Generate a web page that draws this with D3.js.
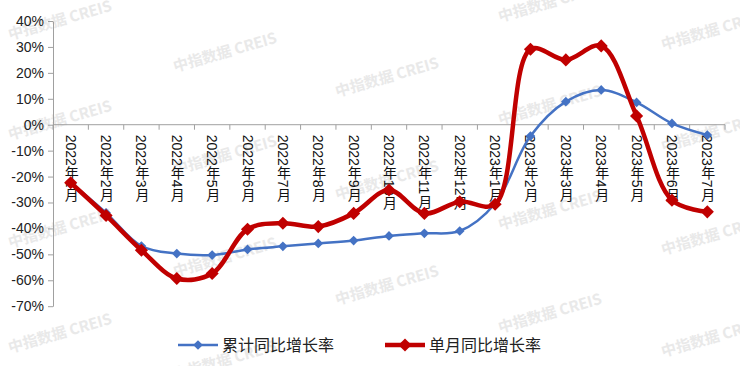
<!DOCTYPE html>
<html>
<head>
<meta charset="utf-8">
<script src="https://cdn.jsdelivr.net/npm/d3@7"></script>
<style>
  body { margin: 0; background: #fff; }
  svg { display: block; font-family: "Liberation Sans", "Noto Sans CJK SC", sans-serif; }
  .wm { font-family: "Noto Sans CJK SC", sans-serif; font-weight: bold; font-size: 15px; fill: #e9e9e9; }
  .xlabel { writing-mode: vertical-rl; font-size: 14px; fill: #111; }
  .ylabel { font-size: 14px; fill: #222; }
  .legend { font-family: "Noto Sans CJK SC", sans-serif; font-size: 16px; fill: #222; }
</style>
</head>
<body>
<div id="root"></div>
<script>
const months = [
  '2022年1月', '2022年2月', '2022年3月', '2022年4月', '2022年5月', '2022年6月',
  '2022年7月', '2022年8月', '2022年9月', '2022年10月', '2022年11月', '2022年12月',
  '2023年1月', '2023年2月', '2023年3月', '2023年4月', '2023年5月', '2023年6月', '2023年7月',
];
const cumulative = [-22.4, -34, -46.8, -49.7, -50.3, -48.1, -46.9, -45.8, -44.7, -42.9, -41.9, -41, -30.4, -4.4, 8.9, 13.4, 8.6, 0.5, -4];
const single = [-22.4, -35, -48.4, -59.3, -57.4, -40.3, -38, -39.3, -34.2, -25.2, -34.2, -29.7, -30.7, 29.1, 25, 30.4, 3.4, -29.1, -33.6];
const yTicks = [40, 30, 20, 10, 0, -10, -20, -30, -40, -50, -60, -70];
const seriesNames = ['累计同比增长率', '单月同比增长率'];
const watermarks = [
  [10, 40], [10, 140], [10, 248], [10, 353],
  [175, 72], [175, 175], [175, 277], [175, 380],
  [337, 97], [337, 200], [337, 305],
  [500, 22], [500, 125], [500, 230], [500, 333],
  [663, 50], [663, 152], [663, 255], [663, 357],
];

const width = 740;
const height = 366;

const svg = d3.select('#root').append('svg')
  .attr('width', width)
  .attr('height', height);

// watermark layer
svg.append('g')
  .selectAll('text')
  .data(watermarks)
  .enter()
  .append('text')
  .attr('class', 'wm')
  .attr('transform', d => `translate(${d[0]}, ${d[1]}) rotate(-16)`)
  .text('中指数据  CREIS');

const xScale = d3.scaleBand()
  .domain(months)
  .range([53, 725]);

const yScale = d3.scaleLinear()
  .domain([-70, 40])
  .range([306.2, 21]);

const yAxis = d3.axisLeft(yScale)
  .tickValues(yTicks)
  .tickFormat(d => `${d}%`)
  .tickSize(5)
  .tickSizeOuter(0);

const yg = svg.append('g')
  .attr('transform', 'translate(53, 0)')
  .call(yAxis);
yg.select('.domain').attr('stroke', '#a0a0a0');
yg.selectAll('.tick line').attr('stroke', '#a0a0a0');
yg.selectAll('.tick text')
  .attr('class', 'ylabel')
  .attr('x', -9)
  .attr('fill', null)
  .attr('font-size', null)
  .attr('font-family', null);

// x axis at 0%, ticks at category boundaries
const xg = svg.append('g')
  .attr('transform', `translate(0, ${yScale(0)})`);
xg.append('line')
  .attr('x1', 53)
  .attr('x2', 725)
  .attr('stroke', '#a0a0a0');
xg.selectAll('.xtick')
  .data(months.concat(['end']))
  .enter()
  .append('line')
  .attr('class', 'xtick')
  .attr('x1', (d, i) => 53 + i * xScale.bandwidth())
  .attr('x2', (d, i) => 53 + i * xScale.bandwidth())
  .attr('y1', 0)
  .attr('y2', 5)
  .attr('stroke', '#a0a0a0');
xg.selectAll('.xlabel')
  .data(months)
  .enter()
  .append('text')
  .attr('class', 'xlabel')
  .attr('x', d => xScale(d) + xScale.bandwidth() / 2)
  .attr('y', 10)
  .text(d => d);

const cx = d => xScale(d) + xScale.bandwidth() / 2;

const line = d3.line()
  .x((d, i) => cx(months[i]))
  .y(d => yScale(d))
  .curve(d3.curveCatmullRom.alpha(0.5));

const diamond = d3.symbol().type(d3.symbolDiamond2);

const series = [
  { name: seriesNames[0], values: cumulative, color: '#4472C4', width: 2.5, marker: 60 },
  { name: seriesNames[1], values: single, color: '#C00000', width: 4.5, marker: 110 },
];

series.forEach(s => {
  svg.append('path')
    .datum(s.values)
    .attr('fill', 'none')
    .attr('stroke', s.color)
    .attr('stroke-width', s.width)
    .attr('stroke-linejoin', 'round')
    .attr('d', line);

  svg.append('g')
    .selectAll('path')
    .data(s.values)
    .enter()
    .append('path')
    .attr('transform', (d, i) => `translate(${cx(months[i])}, ${yScale(d)})`)
    .attr('d', diamond.size(s.marker)())
    .attr('fill', s.color);
});

// legend
const legendX = [178, 385];
const legend = svg.append('g')
  .selectAll('g')
  .data(series)
  .enter()
  .append('g')
  .attr('transform', (d, i) => `translate(${legendX[i]}, 345)`);
legend.append('line')
  .attr('x1', 0)
  .attr('x2', 40)
  .attr('stroke', d => d.color)
  .attr('stroke-width', d => d.width);
legend.append('path')
  .attr('transform', 'translate(20, 0)')
  .attr('d', d => diamond.size(d.marker)())
  .attr('fill', d => d.color);
legend.append('text')
  .attr('class', 'legend')
  .attr('x', 44)
  .attr('dy', '0.35em')
  .text(d => d.name);
</script>
</body>
</html>
